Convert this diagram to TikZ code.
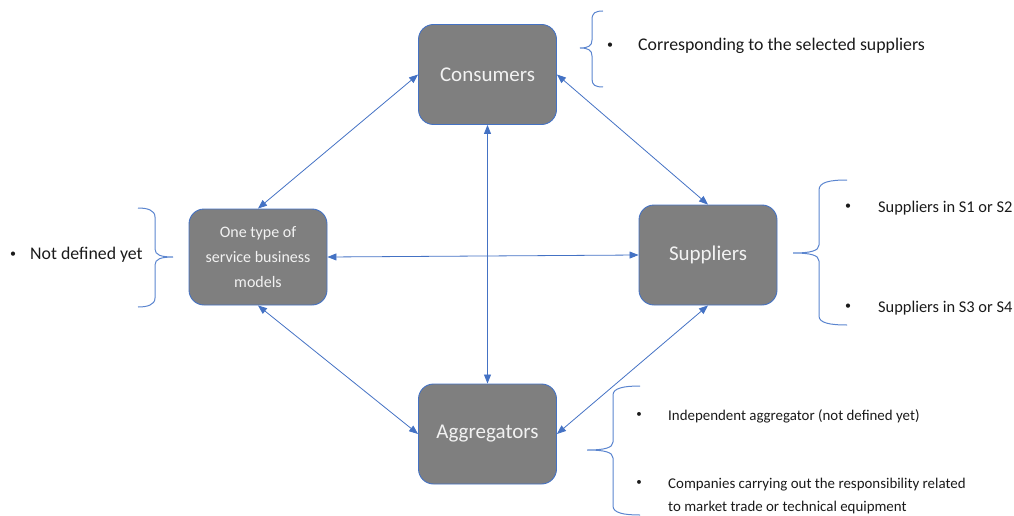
\documentclass[tikz,border=0pt]{standalone}
\usepackage{fontspec}
\setmainfont{Carlito}
\usetikzlibrary{arrows.meta}
\definecolor{boxgray}{HTML}{7F7F7F}
\definecolor{lineblue}{HTML}{4472C4}
\definecolor{bracecol}{HTML}{5B85CF}
\definecolor{boxtext}{HTML}{F2F2F2}
\definecolor{txtcol}{HTML}{1A1A1A}
\tikzset{
  box/.style={draw=lineblue, line width=0.9pt, fill=boxgray, rounded corners=15pt,
    minimum width=138pt, minimum height=100pt, inner sep=0pt, text=boxtext,
    align=center, font=\fontsize{21}{25}\selectfont},
  conn/.style={draw=lineblue, line width=0.8pt, {Triangle[length=9pt,width=7pt]}-{Triangle[length=9pt,width=7pt]}},
  bracepath/.style={draw=bracecol, line width=1pt},
  txt/.style={anchor=west, inner sep=0pt, text=txtcol},
  bul/.style={anchor=center, inner sep=0pt, text=txtcol, font=\fontsize{12}{14}\selectfont}
}
\begin{document}
\begin{tikzpicture}[x=1pt,y=-1pt]
\useasboundingbox (0,0) rectangle (1014,516);
% boxes
\node[box] (cons) at (487.5,74.5) {Consumers};
\node[box, minimum height=96pt, font=\fontsize{16}{25}\selectfont] (one) at (258,257) {One type of\\service business\\models};
\node[box] (sup) at (708,255) {Suppliers};
\node[box] (agg) at (487.5,434) {Aggregators};
% connectors
\draw[conn] (cons.west) -- (one.north);
\draw[conn] (cons.east) -- (sup.north);
\draw[conn] (cons.south) -- (agg.north);
\draw[conn] (one.east) -- (sup.west);
\draw[conn] (one.south) -- (agg.west);
\draw[conn] (sup.south) -- (agg.east);
% braces
\draw[bracepath] (603,11) .. controls (595,11) and (592,13) .. (592,20) -- (592,40)
  .. controls (592,46) and (588,48) .. (580,48) .. controls (588,48) and (592,50) .. (592,56)
  -- (592,79) .. controls (592,85) and (595,87) .. (603,87);
\draw[bracepath] (138,208) .. controls (147,208) and (155,210) .. (155,217) -- (155,249)
  .. controls (155,255) and (161,257) .. (173,257) .. controls (161,257) and (155,259) .. (155,265)
  -- (155,298) .. controls (155,305) and (147,307) .. (138,307);
\draw[bracepath] (847,180) .. controls (830,180) and (819,182) .. (819,190) -- (819,245)
  .. controls (819,251) and (810,253) .. (793,253) .. controls (810,253) and (819,255) .. (819,261)
  -- (819,316) .. controls (819,323) and (830,325) .. (847,325);
\draw[bracepath] (640,386) .. controls (624,386) and (613,388) .. (613,395) -- (613,442)
  .. controls (613,448) and (604,450) .. (587,450) .. controls (604,450) and (613,452) .. (613,458)
  -- (613,506) .. controls (613,513) and (624,515) .. (640,515);
% texts
\node[bul] (b1) at (610,46) {•};
\node[txt, font=\fontsize{17.8}{22}\selectfont] (t1) at (638,46) {Corresponding to the selected suppliers};
\node[bul] (b2) at (13,255) {•};
\node[txt, font=\fontsize{17.8}{22}\selectfont] (t2) at (30,255) {Not defined yet};
\node[bul] (b3) at (848,207) {•};
\node[txt, font=\fontsize{16.4}{22}\selectfont] (t3) at (878,208) {Suppliers in S1 or S2};
\node[bul] (b4) at (848,307) {•};
\node[txt, font=\fontsize{16.4}{22}\selectfont] (t4) at (878,308) {Suppliers in S3 or S4};
\node[bul, font=\fontsize{11}{14}\selectfont] (b5) at (639,415) {•};
\node[txt, font=\fontsize{14.9}{18}\selectfont] (t5) at (668,416) {Independent aggregator (not defined yet)};
\node[bul, font=\fontsize{11}{14}\selectfont] (b6) at (639,483) {•};
\node[txt, font=\fontsize{14.9}{23}\selectfont, align=left] (t6) at (668,496) {Companies carrying out the responsibility related\\to market trade or technical equipment};
\end{tikzpicture}
\end{document}
